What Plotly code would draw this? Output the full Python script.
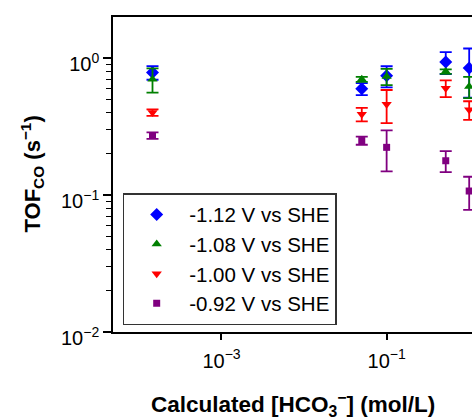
import plotly.graph_objects as go

# ---- data ----
hco3 = [1.46e-4, 0.05, 0.1, 0.52, 1.0]

labels = ["-1.12 V vs SHE", "-1.08 V vs SHE", "-1.00 V vs SHE", "-0.92 V vs SHE"]
tof_112 = [0.785, 0.596, 0.742, 0.935, 0.845]
err_112 = [0.09, 0.06, 0.13, 0.17, 0.33]
tof_108 = [0.70, 0.70, 0.734, 0.798, 0.62]
err_108 = [0.14, 0.03, 0.10, 0.03, 0.11]
tof_100 = [0.40, 0.389, 0.46, 0.603, 0.419]
err_100 = [0.022, 0.044, 0.125, 0.085, 0.065]
tof_092 = [0.272, 0.25, 0.223, 0.178, 0.107]
err_092 = [0.015, 0.017, 0.074, 0.031, 0.029]

x_tickvals = [1e-3, 1e-1]
x_ticktext = ["10<sup>−3</sup>", "10<sup>−1</sup>"]
y_tickvals = [1e-2, 1e-1, 1e0]
y_ticktext = ["10<sup>−2</sup>", "10<sup>−1</sup>", "10<sup>0</sup>"]

series = [
    (labels[0], tof_112, err_112, "#0000FF", "diamond", 10),
    (labels[1], tof_108, err_108, "#008000", "triangle-up", 9),
    (labels[2], tof_100, err_100, "#FF0000", "triangle-down", 9),
    (labels[3], tof_092, err_092, "#800080", "square", 7),
]

FONT = "Arial, 'Liberation Sans', sans-serif"

fig = go.Figure()
for name, ys, es, col, sym, sz in series:
    fig.add_trace(go.Scatter(
        x=hco3, y=ys, name=name, mode="markers",
        marker=dict(color=col, symbol=sym, size=sz, line=dict(width=0)),
        error_y=dict(type="data", array=es, visible=True, color=col,
                     thickness=1.8, width=6),
    ))

minor_y = [k * 10.0 ** e for e in (-2, -1, 0) for k in range(2, 10) if k * 10.0 ** e < 1.99]

fig.update_layout(
    width=472, height=419,
    margin=dict(l=113, r=0, t=17, b=87),
    paper_bgcolor="white", plot_bgcolor="white",
    font=dict(family=FONT, color="black", size=20),
    showlegend=True,
    legend=dict(x=0.027, y=0.441, xanchor="left", yanchor="top",
                bordercolor="#333333", borderwidth=1.5, bgcolor="white",
                itemwidth=55,
                font=dict(size=20.5, family=FONT, color="black")),
    xaxis=dict(type="log", range=[-4.314, 0.034],
               showline=True, linecolor="black", linewidth=1.6, mirror=True,
               ticks="outside", ticklen=6, tickwidth=2, tickcolor="black",
               tickvals=x_tickvals, ticktext=x_ticktext, ticklabelstandoff=4,
               showgrid=False, zeroline=False,
               tickfont=dict(size=20, family=FONT, color="black")),
    yaxis=dict(type="log", range=[-2, 0.30],
               showline=True, linecolor="black", linewidth=1.6,
               ticks="outside", ticklen=8, tickwidth=2, tickcolor="black",
               tickvals=y_tickvals, ticktext=y_ticktext, ticklabelshift=6,
               minor=dict(ticks="outside", ticklen=5, tickwidth=1,
                          tickcolor="black", tickvals=minor_y, showgrid=False),
               showgrid=False, zeroline=False,
               tickfont=dict(size=20, family=FONT, color="black")),
    annotations=[
        dict(text="<b>Calculated [HCO<sub>3</sub><sup>−</sup>] (mol/L)</b>",
             xref="paper", yref="paper", x=0.5, y=0, xanchor="center",
             yanchor="middle", yshift=-72, showarrow=False,
             font=dict(size=22.5, family=FONT, color="black")),
        dict(text="<b>TOF<sub>CO</sub> (s<sup>−1</sup>)</b>",
             xref="paper", yref="paper", x=0, y=0.5, xanchor="center",
             yanchor="middle", xshift=-81, textangle=-90, showarrow=False,
             font=dict(size=22, family=FONT, color="black")),
    ],
)

page_css = ("document.documentElement.style.overflow='hidden';"
            "document.body.style.margin='0';"
            "document.body.style.overflow='hidden';")

fig.write_html("out.html", post_script=page_css,
               config={"displayModeBar": False})
